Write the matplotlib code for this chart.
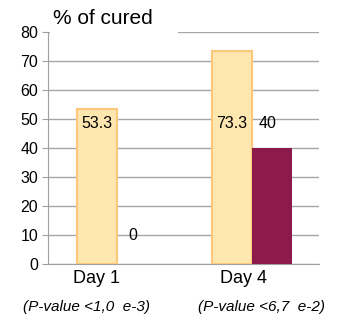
import matplotlib
matplotlib.use("Agg")
import matplotlib.pyplot as plt
import numpy as np

# data
days = ["Day 1", "Day 4"]
series_a = [53.3, 73.3]
series_b = [0, 40]
pvalues = ["(P-value <1,0  e-3)", "(P-value <6,7  e-2)"]
yticks = list(range(0, 81, 10))

plt.rcParams['font.family'] = ['Liberation Sans', 'DejaVu Sans']

fig = plt.figure(figsize=(3.43, 3.20), dpi=100)
ax = fig.add_axes([0.14, 0.175, 0.79, 0.725])

x = np.arange(len(days))
w = 0.296
ax.bar(x - w / 2, series_a, w, color='#FEE7AE', edgecolor='#FDC77C', linewidth=1.5, zorder=3)
ax.bar(x + w / 2, series_b, w, color='#8C1A4B', edgecolor='none', zorder=3)

# value labels (Excel-like placement)
label_y_a = [48.5, 48.5]
label_y_b = [10, 48.5]
for xi, v, ly in zip(x, series_a, label_y_a):
    ax.text(xi - w / 2, ly, f"{v:g}", ha='center', va='center', fontsize=11.5, zorder=4)
for xi, v, ly in zip(x, series_b, label_y_b):
    ax.text(xi + w / 2 - 0.03, ly, f"{v:g}", ha='center', va='center', fontsize=11.5, zorder=4)

ax.set_xlim(-0.511, 1.496)
ax.set_ylim(0, 80)
ax.set_yticks(yticks)
ax.tick_params(axis='y', labelsize=11.5, length=4, color='#A0A0A0', pad=3)
ax.set_xticks(x + np.array([-0.15, -0.06]))
ax.set_xticklabels(days, fontsize=13)
ax.tick_params(axis='x', length=0, pad=4)

ax.grid(axis='y', color='#A6A6A6', linewidth=1)
ax.set_axisbelow(True)
for s in ['top', 'right']:
    ax.spines[s].set_visible(False)
ax.spines['left'].set_color('#A0A0A0')
ax.spines['bottom'].set_color('#A0A0A0')

fig.text(53 / 343, 1 - 18 / 320, "% of cured", fontsize=15, ha='left', va='center')
# white mask covering the top gridline under the title
fig.patches.append(plt.Rectangle((49.5 / 343, 1 - 36 / 320), 128 / 343, 8 / 320,
                                 transform=fig.transFigure, facecolor='white',
                                 edgecolor='none', zorder=5))

for xc, t in zip([86, 262], pvalues):
    fig.text(xc / 343, 1 - 307 / 320, t, fontsize=11, style='italic', ha='center', va='center')

fig.savefig("out.png", dpi=100)
